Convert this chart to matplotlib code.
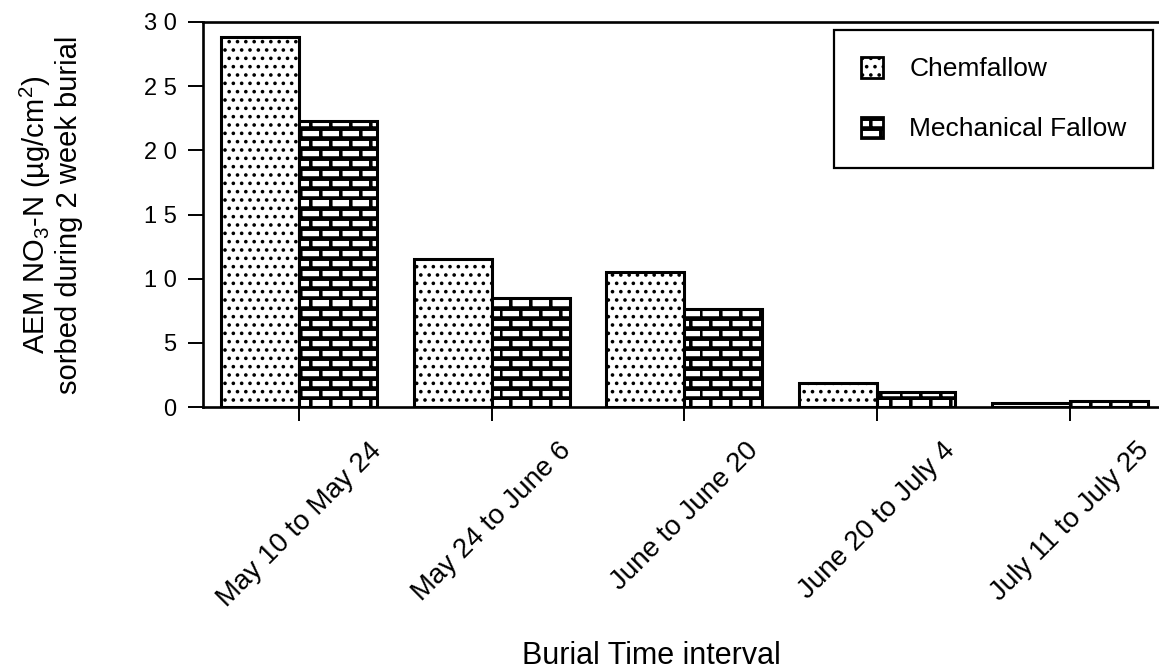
import warnings
import numpy as np
import matplotlib
matplotlib.use('Agg')
import matplotlib.pyplot as plt
import matplotlib.hatch as mhatch
from matplotlib.path import Path
from matplotlib.patches import Patch

warnings.filterwarnings("ignore")

# data
intervals = ["May 10 to May 24", "May 24 to June 6", "June to June 20",
             "June 20 to July 4", "July 11 to July 25"]
chemfallow = [28.8, 11.5, 10.55, 1.9, 0.3]
mech_fallow = [22.3, 8.5, 7.6, 1.15, 0.5]
y_ticks = [0, 5, 10, 15, 20, 25, 30]
y_ticklabels = ["0", "5", "1 0", "1 5", "2 0", "2 5", "3 0"]


class BrickHatch(mhatch.HatchPatternBase):
    """brick wall pattern, used with hatch char 'b'"""
    rows = 10
    cols = 5
    th = 0.028   # horizontal mortar
    tv = 0.016   # vertical mortar

    def __init__(self, hatch, density):
        self.on = hatch.count('b') > 0
        n_rect = self.rows + self.rows * self.cols if self.on else 0
        self.num_vertices = n_rect * 5

    def set_vertices_and_codes(self, vertices, codes):
        rects = []
        h = 1.0 / self.rows
        w = 1.0 / self.cols
        for k in range(self.rows):
            y0 = k * h
            rects.append((0.0, y0, 1.0, y0 + self.th))
            off = 0.5 * w if k % 2 else 0.0
            for j in range(self.cols):
                x0 = j * w + off
                rects.append((x0, y0 + self.th, x0 + self.tv, y0 + h))
        i = 0
        for (x0, y0, x1, y1) in rects:
            vertices[i:i + 5] = [[x0, y0], [x1, y0], [x1, y1], [x0, y1], [x0, y0]]
            codes[i:i + 5] = [Path.MOVETO, Path.LINETO, Path.LINETO,
                              Path.LINETO, Path.CLOSEPOLY]
            i += 5


mhatch._hatch_types.append(BrickHatch)

plt.rcParams['font.family'] = ['Liberation Sans', 'DejaVu Sans']
plt.rcParams['mathtext.default'] = 'regular'
plt.rcParams['hatch.linewidth'] = 1.4

fig = plt.figure(figsize=(11.59, 6.70), dpi=100)
ax = fig.add_axes([0.1752, 0.3925, 0.8307, 0.5747])

x = np.arange(len(intervals))
w = 0.405
ax.bar(x - w / 2, chemfallow, w, color='white', edgecolor='black',
       linewidth=2.2, hatch='..', zorder=2)
ax.bar(x + w / 2, mech_fallow, w, color='white', edgecolor='black',
       linewidth=2.2, hatch='b', zorder=2)

ax.set_xlim(-0.5, 4.5)
ax.set_ylim(0, 30)
ax.set_yticks(y_ticks)
ax.set_yticklabels(y_ticklabels, fontsize=17)
ax.set_xticks(x)
ax.set_xticklabels(intervals, rotation=45, ha='center', fontsize=20)
ax.tick_params(axis='y', direction='out', length=11, width=1.4, pad=8)
ax.tick_params(axis='x', direction='out', length=10, width=1.4, pad=12)

for s in ax.spines.values():
    s.set_linewidth(1.9)
ax.spines['right'].set_visible(False)

ax.set_ylabel("AEM NO$_3$-N (µg/cm$^2$)\nsorbed during 2 week burial",
              fontsize=21, linespacing=1.1)
ax.yaxis.set_label_coords(-0.125, 0.5)
ax.set_xlabel("Burial Time interval", fontsize=22)
ax.xaxis.set_label_coords(0.466, -0.607)

handles = [Patch(facecolor='white', edgecolor='black', hatch='..', linewidth=2),
           Patch(facecolor='white', edgecolor='black', hatch='b', linewidth=2)]
leg = ax.legend(handles, ["Chemfallow", "Mechanical Fallow"], loc='upper right',
                bbox_to_anchor=(0.9948, 0.955), bbox_transform=fig.transFigure,
                borderaxespad=0, fancybox=False, shadow=False, framealpha=1,
                edgecolor='black', fontsize=19, handlelength=0.85,
                handleheight=0.85, handletextpad=1.0, labelspacing=1.35,
                borderpad=1.0)
leg.get_frame().set_linewidth(1.6)

fig.savefig("out.png", dpi=100)
